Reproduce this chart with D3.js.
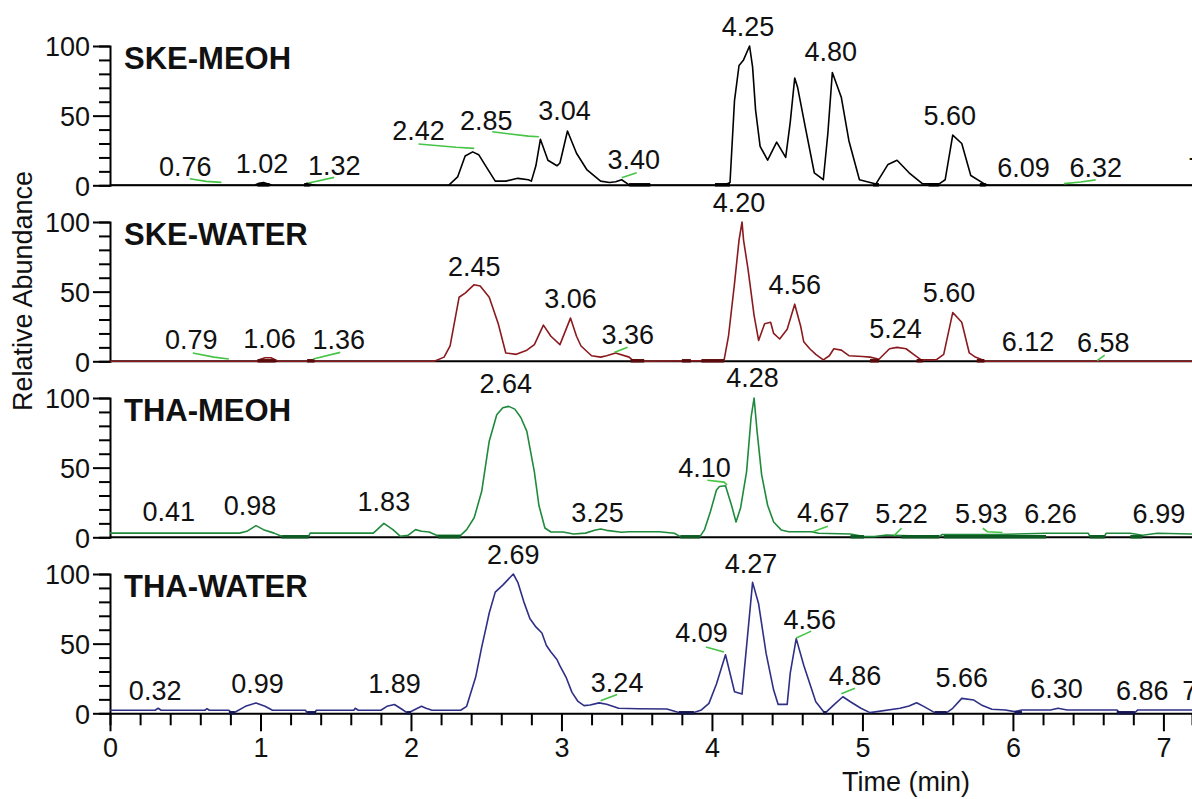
<!DOCTYPE html>
<html><head><meta charset="utf-8">
<script src="https://cdn.jsdelivr.net/npm/d3@7"></script>
<style>
html,body{margin:0;padding:0;background:#fff;overflow:hidden;}
svg{display:block;}
text{font-family:"Liberation Sans", Arial, sans-serif;fill:#111;}
</style></head><body>
<svg id="chart" width="1192" height="799"></svg>
<script>
// ---------- data ----------
const panelNames = ["SKE-MEOH", "SKE-WATER", "THA-MEOH", "THA-WATER"];
const yTickValues = [0, 10, 20, 30, 40, 50, 60, 70, 80, 90, 100];
const yTickLabels = [0, 50, 100];
const xTickValues = [0,0.2,0.4,0.6,0.8,1,1.2,1.4,1.6,1.8,2,2.2,2.4,2.6,2.8,3,3.2,3.4,3.6,3.8,4,4.2,4.4,4.6,4.8,5,5.2,5.4,5.6,5.8,6,6.2,6.4,6.6,6.8,7];
const xTickLabels = [0, 1, 2, 3, 4, 5, 6, 7];
const xAxisTitle = "Time (min)";
const yAxisTitle = "Relative Abundance";

// traces: [time (min), relative abundance]
const skeMeohTrace = [[0,0],[0.96,0],[0.99,1.5],[1.02,2],[1.05,1],[1.08,0],[1.29,0],[1.31,1.5],[1.34,0.5],[1.37,0],
 [2.25,0],[2.31,6],[2.36,21],[2.41,24],[2.45,22],[2.49,15],[2.56,3],[2.63,3],[2.71,5],[2.78,4],[2.80,3],[2.83,14],[2.86,33],[2.91,18],[2.97,14],[2.99,16],[3.04,39],[3.10,23],[3.17,11],[3.26,3],[3.32,2],[3.36,2.5],[3.40,4],[3.44,1],[3.47,0],
 [4.08,0],[4.12,2],[4.15,61],[4.18,86],[4.21,90],[4.25,100],[4.27,85],[4.29,54],[4.32,28],[4.37,18],[4.43,31],[4.49,20],[4.52,45],[4.55,77],[4.57,70],[4.62,42],[4.68,9],[4.74,4],[4.77,37],[4.80,81],[4.86,63],[4.91,32],[4.98,4],[5.09,1],[5.17,15],[5.23,18],[5.31,9],[5.40,1],[5.51,1],[5.55,4],[5.60,36],[5.66,30],[5.72,7],[5.81,1],[5.84,0],[7.19,0]];
const skeWaterTrace = [[0,0],[0.98,0],[1.0,1.5],[1.03,2.5],[1.07,2.5],[1.10,1],[1.12,0],[2.155,0],[2.22,3],[2.26,11],[2.32,46],[2.36,49],[2.42,55],[2.46,54],[2.52,46],[2.58,27],[2.63,6],[2.70,5],[2.77,8],[2.82,12],[2.88,26],[2.93,18],[2.99,12],[3.06,31],[3.10,18],[3.13,11],[3.20,4],[3.26,3],[3.30,4],[3.36,6],[3.45,3],[3.47,1],[3.55,0],
 [4.08,0.5],[4.11,18],[4.15,56],[4.18,87],[4.20,100],[4.21,87],[4.24,66],[4.28,33],[4.31,15],[4.35,27],[4.39,28],[4.41,20],[4.45,16],[4.50,23],[4.55,41],[4.59,25],[4.61,14],[4.65,9],[4.69,5],[4.74,1],[4.78,4],[4.81,9],[4.86,8],[4.91,4],[5.00,3.5],[5.05,3],[5.11,1.5],[5.18,9],[5.23,10],[5.29,9],[5.34,5],[5.39,1],[5.49,1],[5.54,5],[5.60,35],[5.66,28],[5.71,6],[5.75,3],[5.80,1],[5.82,0],[7.19,0]];
const thaMeohTrace = [[0,3],[0.86,3],[0.91,4.3],[0.97,8.4],[1.02,5.5],[1.09,3],[1.14,0.7],[1.32,0.7],[1.33,3],[1.75,3],[1.77,5],[1.82,10],[1.88,5.5],[1.93,0.7],[1.98,1.4],[2.03,5.5],[2.07,4.3],[2.12,3.8],[2.17,1.4],[2.33,1.4],[2.37,5.5],[2.42,14],[2.47,33],[2.52,69],[2.57,88],[2.61,93],[2.65,94],[2.69,92],[2.73,86],[2.77,76],[2.82,47],[2.85,23],[2.89,6.7],[2.93,3.8],[3.01,3.8],[3.08,2.4],[3.16,3],[3.22,5],[3.26,6],[3.30,5],[3.40,3.6],[3.45,4],[3.65,4],[3.75,2.9],[3.79,0.5],[3.92,0.5],[3.95,5.3],[3.99,18.5],[4.03,34],[4.05,36.5],[4.09,37],[4.13,23],[4.16,11],[4.19,21],[4.23,47],[4.26,86],[4.28,100],[4.30,76],[4.33,45],[4.37,23],[4.41,11],[4.46,5.3],[4.51,4],[4.66,4],[4.71,2.9],[4.92,2.4],[5.01,0.5],[5.08,0.5],[5.16,1.7],[5.26,1.2],[5.51,0.5],[5.53,2],[5.90,2],[6.22,2.9],[6.50,2.9],[6.51,1],[6.61,1],[6.62,2.9],[6.78,2.9],[6.86,1.5],[6.96,2.9],[7.19,2.4]];
const thaWaterTrace = [[0,2.2],[0.30,2.2],[0.32,3.6],[0.34,2.2],[0.63,2.2],[0.645,3.3],[0.66,2.2],[0.79,2.2],[0.81,0],[0.83,0.8],[0.90,5],[0.97,7.4],[1.03,5],[1.08,2.2],[1.30,2.2],[1.31,0],[1.36,0],[1.37,2.2],[1.62,2.2],[1.63,3.6],[1.65,2.2],[1.80,2.2],[1.84,5],[1.89,6.3],[1.94,2.9],[1.98,0],[2.01,1.8],[2.07,5],[2.10,3.6],[2.14,2.2],[2.33,2.2],[2.37,5],[2.43,26],[2.47,47.5],[2.50,62],[2.52,72],[2.56,87],[2.61,92],[2.68,100],[2.71,94],[2.75,80],[2.79,68],[2.83,62],[2.87,57.6],[2.90,48.7],[2.93,44],[2.97,38.6],[2.99,34],[3.03,26],[3.07,15],[3.11,8.5],[3.15,5.5],[3.19,6],[3.25,7.5],[3.30,6.5],[3.38,3.6],
 [3.51,3.3],[3.70,3.1],[3.78,0.5],[3.88,0.5],[3.93,2.4],[3.98,7.1],[4.03,21],[4.09,42],[4.15,15.5],[4.20,13.8],[4.24,59.5],[4.27,94],[4.31,78.6],[4.36,43],[4.41,16.7],[4.44,6.4],[4.50,6.4],[4.52,28.6],[4.56,53.6],[4.61,34.5],[4.69,8.3],[4.75,0],[4.81,6],[4.87,11.9],[4.92,8.3],[4.99,3.6],[5.05,0.5],[5.25,3.6],[5.31,5.2],[5.36,7.6],[5.41,4.8],[5.48,0.5],[5.56,0.5],[5.60,3.6],[5.66,10.7],[5.74,9.5],[5.79,6],[5.86,2.9],[5.95,2.4],[6.01,1.2],[6.06,2.4],[6.25,2.4],[6.30,3.6],[6.36,2.4],[6.69,2.4],[6.71,0.5],[6.81,0.5],[6.83,2.4],[7.19,2.4]];

// integration baseline marks [start, end] (min)
const skeMeohMarks = [[0.98,1.06],[1.29,1.33],[3.45,3.59],[4.02,4.12],[5.07,5.11],[5.44,5.51],[5.78,5.82]];
const skeWaterMarks = [[0.98,1.10],[1.31,1.36],[3.46,3.55],[3.80,3.86],[3.93,4.08],[5.05,5.11],[5.36,5.40],[5.76,5.81]];
const thaMeohMarks = [[1.14,1.32],[2.18,2.33],[3.79,3.92],[4.92,5.01],[5.26,5.51],[5.54,6.22],[6.51,6.61],[6.78,6.86]];
const thaWaterMarks = [[0.79,0.83],[1.31,1.37],[1.97,2.0],[3.78,3.88],[4.74,4.76],[5.48,5.56],[6.01,6.06],[6.69,6.81]];

// peak labels: text, label centre time, label baseline abundance, optional leader [time, abundance]
const skeMeohLabels = [
 {rt:"0.76", t:0.50, v:6.4, leader:[[0.53,4.7],[0.64,2.8],[0.74,2.1]]},
 {rt:"1.02", t:1.01, v:8.8},
 {rt:"1.32", t:1.49, v:7.6, leader:[[1.32,1.7],[1.49,5.7]]},
 {rt:"2.42", t:2.05, v:32.5, leader:[[2.05,29.6],[2.30,27.3],[2.42,26.5]]},
 {rt:"2.85", t:2.50, v:40, leader:[[2.54,38.4],[2.78,35.3],[2.85,34.8]]},
 {rt:"3.04", t:3.02, v:47},
 {rt:"3.40", t:3.48, v:11.6, leader:[[3.40,5.5],[3.50,9]]},
 {rt:"4.25", t:4.24, v:107},
 {rt:"4.80", t:4.79, v:89},
 {rt:"5.60", t:5.58, v:43.6},
 {rt:"6.09", t:6.07, v:6},
 {rt:"6.32", t:6.55, v:6, leader:[[6.34,1.2],[6.45,2.4],[6.55,3.9]]},
 {rt:"7.14", t:7.34, v:6}
];
const skeWaterLabels = [
 {rt:"0.79", t:0.54, v:8.8, leader:[[0.55,6],[0.69,3],[0.79,1.7]]},
 {rt:"1.06", t:1.06, v:9.3},
 {rt:"1.36", t:1.52, v:8.8, leader:[[1.35,1.7],[1.53,6.4]]},
 {rt:"2.45", t:2.42, v:61},
 {rt:"3.06", t:3.06, v:38.6},
 {rt:"3.36", t:3.44, v:12.4, leader:[[3.35,6.4],[3.44,10]]},
 {rt:"4.20", t:4.18, v:107},
 {rt:"4.56", t:4.55, v:48},
 {rt:"5.24", t:5.22, v:17},
 {rt:"5.60", t:5.575, v:42.6},
 {rt:"6.12", t:6.10, v:7.6},
 {rt:"6.58", t:6.60, v:6.9, leader:[[6.56,0.5],[6.61,4.5]]}
];
const thaMeohLabels = [
 {rt:"0.41", t:0.39, v:11.5},
 {rt:"0.98", t:0.93, v:16},
 {rt:"1.83", t:1.82, v:18.7},
 {rt:"2.64", t:2.63, v:103.6},
 {rt:"3.25", t:3.24, v:11.3},
 {rt:"4.10", t:3.95, v:43.6, leader:[[3.97,41],[4.08,39.6],[4.10,37.6]]},
 {rt:"4.28", t:4.27, v:108},
 {rt:"4.67", t:4.74, v:10.8, leader:[[4.67,4],[4.77,8]]},
 {rt:"5.22", t:5.26, v:10, leader:[[5.21,1.2],[5.26,6.5]]},
 {rt:"5.93", t:5.79, v:10, leader:[[5.80,6.5],[5.83,4],[5.93,3.4]]},
 {rt:"6.26", t:6.25, v:10},
 {rt:"6.99", t:6.97, v:10}
];
const thaWaterLabels = [
 {rt:"0.32", t:0.30, v:9.3},
 {rt:"0.99", t:0.98, v:14.3},
 {rt:"1.89", t:1.89, v:14.3},
 {rt:"2.69", t:2.68, v:107},
 {rt:"3.24", t:3.37, v:15.5, leader:[[3.26,9],[3.37,13.5]]},
 {rt:"4.09", t:3.93, v:51, leader:[[3.96,47.6],[4.08,44]]},
 {rt:"4.27", t:4.26, v:101},
 {rt:"4.56", t:4.65, v:60.7, leader:[[4.56,54],[4.66,59]]},
 {rt:"4.86", t:4.95, v:20, leader:[[4.86,14],[4.95,17.9]]},
 {rt:"5.66", t:5.66, v:19},
 {rt:"6.30", t:6.29, v:10.7},
 {rt:"6.86", t:6.86, v:9.5},
 {rt:"7.14", t:7.30, v:9.5}
];

const traces = [skeMeohTrace, skeWaterTrace, thaMeohTrace, thaWaterTrace];
const marks = [skeMeohMarks, skeWaterMarks, thaMeohMarks, thaWaterMarks];
const labels = [skeMeohLabels, skeWaterLabels, thaMeohLabels, thaWaterLabels];

// ---------- style / layout ----------
const lineColors = ["#000000", "#8b1a1f", "#1f8a3c", "#2f2f86"];
const markColors = ["#000000", "#5a0a0a", "#0d5a22", "#16164f"];
const leaderColor = "#45c445";
const W = 1192, H = 799;
const left = 110, firstBase = 185.3, pitch = 176, panelH = 139.3;
const numFont = 27;

const svg = d3.select("#chart");
const x = d3.scaleLinear().domain([0, 7.19]).range([left, W]);

panelNames.forEach((name, i) => {
  const base = firstBase + i * pitch;
  const y = d3.scaleLinear().domain([0, 100]).range([base, base - panelH]);
  const g = svg.append("g");

  // y axis
  const ya = d3.axisLeft(y).tickValues(yTickValues).tickSizeOuter(0).tickSize(11)
    .tickFormat(d => yTickLabels.includes(d) ? d : "");
  const yg = g.append("g").attr("transform", `translate(${left},0)`).call(ya);
  yg.select(".domain").attr("stroke", "#000").attr("stroke-width", 2);
  yg.selectAll(".tick line").attr("stroke", "#000").attr("stroke-width", 2)
    .attr("x2", d => yTickLabels.includes(d) ? -17 : -11);
  yg.selectAll(".tick text").attr("x", -20).attr("dy", "0.36em")
    .style("font-size", numFont + "px").style("font-family", '"Liberation Sans", Arial, sans-serif').attr("fill", "#111");

  // baseline / x axis
  if (i === panelNames.length - 1) {
    const xa = d3.axisBottom(x).tickValues(xTickValues).tickSizeOuter(0).tickSize(12)
      .tickFormat(d => xTickLabels.includes(Math.round(d * 10) / 10) ? d3.format("d")(d) : "");
    const xg = g.append("g").attr("transform", `translate(0,${base})`).call(xa);
    xg.select(".domain").attr("stroke", "#000").attr("stroke-width", 2);
    xg.selectAll(".tick line").attr("stroke", "#000").attr("stroke-width", 2)
      .attr("y2", d => Math.abs(d - Math.round(d)) < 1e-6 ? 18 : 12);
    xg.selectAll(".tick text").attr("y", 44).attr("dy", 0)
      .style("font-size", numFont + "px").style("font-family", '"Liberation Sans", Arial, sans-serif').attr("fill", "#111");
  } else {
    g.append("line").attr("x1", x.range()[0]).attr("x2", x.range()[1])
      .attr("y1", y(0)).attr("y2", y(0)).attr("stroke", "#000").attr("stroke-width", 2);
  }

  // trace
  const line = d3.line().x(d => x(d[0])).y(d => y(d[1]));
  g.append("path").datum(traces[i]).attr("d", line)
    .attr("fill", "none").attr("stroke", lineColors[i]).attr("stroke-width", 1.6)
    .attr("stroke-linejoin", "round");

  // integration marks
  g.selectAll(".mk").data(marks[i]).enter().append("line")
    .attr("x1", d => x(d[0])).attr("x2", d => x(d[1]))
    .attr("y1", y(0) - 0.5).attr("y2", y(0) - 0.5)
    .attr("stroke", markColors[i]).attr("stroke-width", 3.5);

  // leaders
  labels[i].filter(d => d.leader).forEach(d => {
    g.append("path").datum(d.leader).attr("d", line)
      .attr("fill", "none").attr("stroke", leaderColor).attr("stroke-width", 1.6);
  });

  // peak labels
  g.selectAll(".pl").data(labels[i]).enter().append("text")
    .attr("x", d => x(d.t)).attr("y", d => y(d.v))
    .attr("text-anchor", "middle").style("font-size", numFont + "px")
    .text(d => d.rt);

  // title
  g.append("text").attr("x", left + 14).attr("y", y(100) + 22.5)
    .style("font-size", "31px").style("font-weight", "bold").attr("fill", "#000")
    .text(name);
});

// axis titles
svg.append("text").attr("x", 906).attr("y", 791).attr("text-anchor", "middle")
  .style("font-size", "27px").text(xAxisTitle);
svg.append("text").attr("transform", "translate(32,291) rotate(-90)").attr("text-anchor", "middle")
  .style("font-size", "27px").text(yAxisTitle);
</script>
</body></html>
